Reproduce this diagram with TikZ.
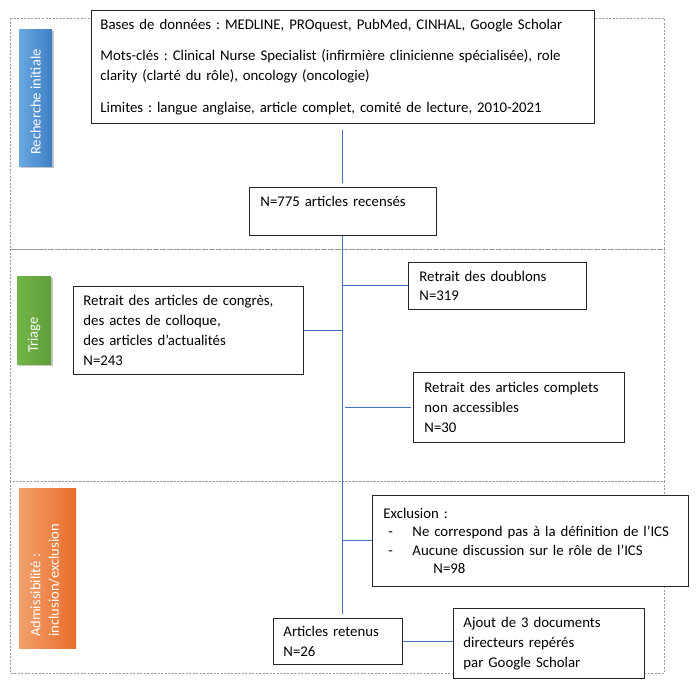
\documentclass[tikz,border=0pt]{standalone}
\usepackage{fontspec}
\setmainfont{Carlito}
\frenchspacing
\definecolor{lineblue}{HTML}{4472C4}
\definecolor{dashgray}{HTML}{9A9A9A}
\definecolor{blueL}{HTML}{6AA8E0}
\definecolor{blueR}{HTML}{3F7FC6}
\definecolor{greenL}{HTML}{74B548}
\definecolor{greenR}{HTML}{5E9E3A}
\definecolor{orangeL}{HTML}{F2A06C}
\definecolor{orangeR}{HTML}{E86E2A}
\tikzset{
  panel/.style={draw=dashgray, line width=0.6pt, dash pattern=on 2pt off 1.5pt},
  box/.style={draw=black!85, line width=0.9pt, fill=white, align=left, anchor=north west,
    inner xsep=10pt, inner ysep=0pt, font=\fontsize{14.8}{19.8}\selectfont},
  tabtext/.style={rotate=90, text=white, align=left, inner sep=0pt,
    font=\fontsize{14.6}{18.5}\selectfont},
  conn/.style={draw=lineblue, line width=1pt},
  tabshadow/.style={fill=black!22},
}
\begin{document}
\begin{tikzpicture}[x=1pt,y=-1pt]
\useasboundingbox[fill=white] (0,0) rectangle (699,689);
% panels
\draw[panel] (10,18) rectangle (664,249);
\draw[panel] (10,249) rectangle (664,481);
\draw[panel] (10,481) rectangle (664,673);
% tabs
\fill[tabshadow] (21,31) rectangle (54,168);
\shade[left color=blueL, right color=blueR] (19,29) rectangle (52,166);
\node[tabtext, anchor=west] (tab1) at (35.5,155) {Recherche initiale};
\fill[tabshadow] (19,278) rectangle (53,366);
\shade[left color=greenL, right color=greenR] (17,276) rectangle (51,364);
\node[tabtext, anchor=west] (tab2) at (34,353) {Triage};
\shade[left color=orangeL, right color=orangeR] (19,488) rectangle (76,648);
\node[tabtext, anchor=north west] (tab3) at (30,637) {Admissibilité :\\inclusion/exclusion};
% boxes
\node[box, inner xsep=9pt, text width=485pt, minimum height=113pt] (top) at (91,10)
  {Bases de données : MEDLINE, PROquest, PubMed, CINHAL, Google Scholar\\[12pt]
   Mots-clés : Clinical Nurse Specialist (infirmière clinicienne spécialisée), role\\
   clarity (clarté du rôle), oncology (oncologie)\\[12pt]
   Limites : langue anglaise, article complet, comité de lecture, 2010-2021};
\node[box, inner xsep=11pt, text width=165pt, minimum height=48pt] (n775) at (249,187)
  {N=775 articles recensés\\\mbox{}};
\node[box, text width=210pt, minimum height=88pt] (congres) at (73,286)
  {Retrait des articles de congrès,\\des actes de colloque,\\des articles d’actualités\\N=243};
\node[box, inner xsep=11pt, text width=156pt, minimum height=47pt] (doublons) at (408,262)
  {Retrait des doublons\\N=319};
\node[box, inner xsep=11pt, text width=189pt, minimum height=70pt] (complets) at (413,372)
  {Retrait des articles complets\\non accessibles\\N=30};
\node[box, inner xsep=11pt, text width=294pt, minimum height=91pt,
  font=\fontsize{14.8}{18.5}\selectfont] (exclusion) at (372,495)
  {Exclusion :\\
   \hspace*{5pt}\makebox[24pt][l]{-}Ne correspond pas à la définition de l’ICS\\
   \hspace*{5pt}\makebox[24pt][l]{-}Aucune discussion sur le rôle de l’ICS\\
   \hspace*{50pt}N=98};
\node[box, text width=109pt, minimum height=46pt] (retenus) at (273,618)
  {Articles retenus\\N=26};
\node[box, text width=171pt, minimum height=70pt] (ajout) at (453,608)
  {Ajout de 3 documents\\directeurs repérés\\par Google Scholar};
% connectors
\draw[conn, shorten <=6pt, shorten >=4pt] (top.south) -- (n775.north);
\draw[conn, shorten >=4pt] (n775.south) -- (n775.south |- retenus.north);
\draw[conn] (n775.south |- doublons.west) -- (doublons.west);
\draw[conn] (congres.east) -- (congres.east -| n775.south);
\draw[conn, shorten <=2pt, shorten >=2pt] (n775.south |- complets.west) -- (complets.west);
\draw[conn] (n775.south |- exclusion.west) -- (exclusion.west);
\draw[conn] (retenus.east) -- (retenus.east -| ajout.west);
\end{tikzpicture}
\end{document}
